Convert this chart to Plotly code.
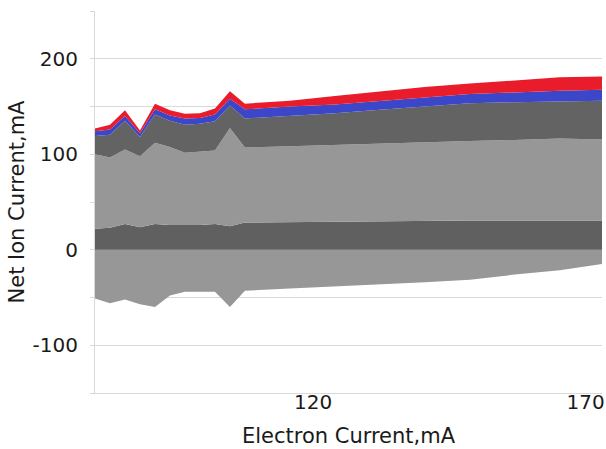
import plotly.graph_objects as go

# Electron current (x) sample points, mA
electron_current = [80, 82.75, 85.5, 88.25, 91, 93.75, 96.5, 99.25, 102, 104.75, 107.5,
                    115.75, 124, 132.25, 140.5, 148.75, 157, 165.25, 173]

# Negative component (drawn below zero)
neg_component = [-51, -56, -52, -57, -60, -48, -44, -44, -44, -60, -43,
                 -40.5, -38.5, -36.5, -34, -31.5, -26, -21.5, -15]

# Stacked positive components (thicknesses)
comp_dark_low = [22, 23, 27, 23.5, 27, 26, 26, 26, 27, 24.5, 28.5,
                 29, 29.5, 30, 30.5, 30.5, 30.5, 30.5, 30.5]
comp_light_mid = [78, 73.5, 78, 74.5, 85, 81.5, 75.5, 76.5, 77, 103, 78.5,
                  79.5, 80.5, 81.5, 82.5, 83.5, 84.5, 86, 85]
comp_dark_high = [19, 24, 30, 20, 29.5, 27.5, 29.5, 29.5, 30.5, 23.5, 30.5,
                  31.5, 33, 35, 37, 39.5, 39.5, 39, 40.5]
comp_blue = [5, 5.5, 5, 4, 5.5, 5.5, 6.5, 6, 7, 7, 9.5,
             10, 9, 9.5, 9.5, 9.5, 10.5, 11, 11.5]
comp_red = [3, 5, 6, 3, 6, 5.5, 5, 5, 6.5, 8, 6,
            6, 9, 10, 11, 11, 12, 14, 14]

y_tickvals = [-150, -100, -50, 0, 50, 100, 150, 200, 250]
y_ticktext = ["", "-100", "", "0", "", "100", "", "200", ""]
x_tickvals = [120, 170]
x_ticktext = ["120", "170"]

LIGHT = "#979797"
DARK = "#606060"
BLUE = "#3c46c8"
RED = "#e81c2b"

fig = go.Figure()

fig.add_trace(go.Scatter(x=electron_current, y=neg_component, mode="lines",
                         line=dict(width=0), fill="tozeroy", fillcolor=LIGHT,
                         showlegend=False, hoverinfo="skip"))

for vals, col in [(comp_dark_low, DARK), (comp_light_mid, LIGHT),
                  (comp_dark_high, "#636363"), (comp_blue, BLUE), (comp_red, RED)]:
    fig.add_trace(go.Scatter(x=electron_current, y=vals, mode="lines",
                             line=dict(width=0), stackgroup="pos", fillcolor=col,
                             showlegend=False, hoverinfo="skip"))

font_family = "DejaVu Sans"
fig.update_layout(
    width=606, height=449,
    margin=dict(l=95, r=4, t=11, b=56),
    paper_bgcolor="white", plot_bgcolor="white",
    font=dict(family=font_family, size=20, color="#1a1a1a"),
    showlegend=False,
)
fig.update_xaxes(
    range=[80, 173], tickvals=x_tickvals, ticktext=x_ticktext, automargin=False,
    showgrid=False, zeroline=False, showline=True, linecolor="#d9d9d9", linewidth=1,
    ticks="", tickfont=dict(size=20), ticklabelstandoff=-9,
    title=dict(text="Electron Current,mA", font=dict(size=21), standoff=15),
)
fig.update_yaxes(
    range=[-150, 250], tickvals=y_tickvals, ticktext=y_ticktext, automargin=False,
    showgrid=True, gridcolor="#d9d9d9", gridwidth=1, zeroline=False,
    showline=True, linecolor="#d9d9d9", linewidth=1,
    ticks="outside", ticklen=4, tickcolor="#d9d9d9", ticklabelstandoff=8,
    tickfont=dict(size=20),
    title=dict(text="Net Ion Current,mA", font=dict(size=21), standoff=2),
)

fig.write_html("out.html", config={"displayModeBar": False},
               post_script="document.body.style.margin='0';")
